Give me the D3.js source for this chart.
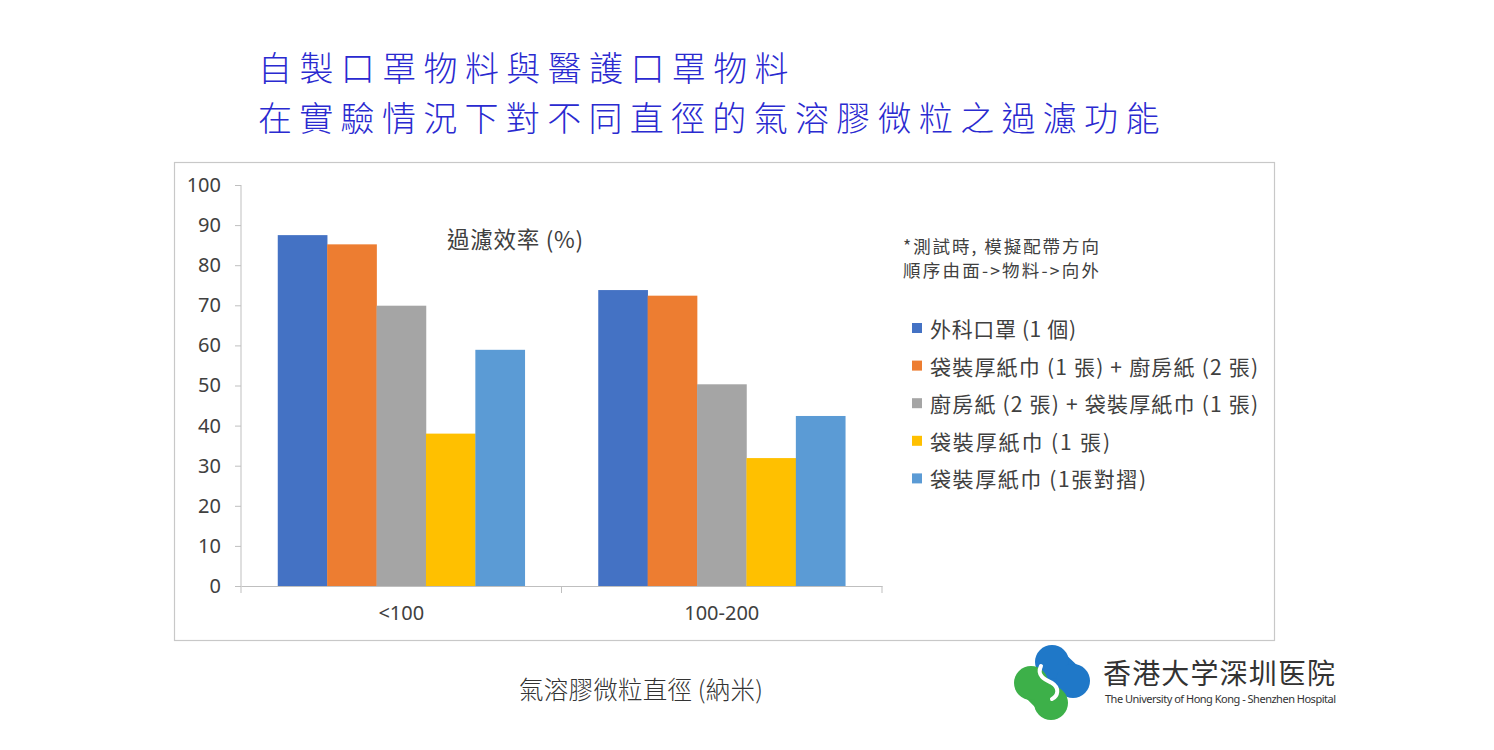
<!DOCTYPE html>
<html>
<head>
<meta charset="utf-8">
<script src="https://cdn.jsdelivr.net/npm/d3@7"></script>
<style>
  body { margin: 0; background: #fff; }
  text { font-family: "Noto Sans", "Noto Sans CJK TC", sans-serif; }
  .cjk { font-family: "Noto Sans CJK TC", sans-serif; }
</style>
</head>
<body>
<div class="svg-container"></div>
<script>
var width = 1494,
  height = 750;

// data
var categories = ["<100", "100-200"];
var seriesNames = [
  "外科口罩 (1 個)",
  "袋裝厚紙巾 (1 張) + 廚房紙 (2 張)",
  "廚房紙 (2 張) + 袋裝厚紙巾 (1 張)",
  "袋裝厚紙巾 (1 張)",
  "袋裝厚紙巾 (1張對摺)"
];
var seriesColors = ["#4472c4", "#ed7d31", "#a5a5a5", "#ffc000", "#5b9bd5"];
// one array per series: [<100, 100-200]
var surgicalMask = [87.5, 73.8];
var tissuePlusKitchen = [85.2, 72.4];
var kitchenPlusTissue = [69.9, 50.3];
var tissueSingle = [38.0, 31.9];
var tissueFolded = [58.9, 42.4];
var yTicks = [0, 10, 20, 30, 40, 50, 60, 70, 80, 90, 100];
var titleLines = ["自製口罩物料與醫護口罩物料", "在實驗情況下對不同直徑的氣溶膠微粒之過濾功能"];
var noteLines = ["*測試時, 模擬配帶方向", "順序由面->物料->向外"];

var seriesValues = [surgicalMask, tissuePlusKitchen, kitchenPlusTissue, tissueSingle, tissueFolded];
// widths the legend labels take in the picture
var legendWidths = [146, 328, 328, 180, 216];

var svg = d3.select(".svg-container").append("svg")
  .attr("width", width)
  .attr("height", height);

// title
svg.selectAll(".title")
  .data(titleLines)
  .enter()
  .append("text")
  .attr("class", "title cjk")
  .attr("x", 258)
  .attr("y", function(d, i) { return 81 + i * 49.5; })
  .attr("font-size", 34)
  .attr("font-weight", 300)
  .attr("fill", "#2a2ad0")
  .attr("textLength", function(d) { return d.length * 41.2 - 5; })
  .text(function(d) { return d; });

// chart frame
svg.append("rect")
  .attr("x", 174.5)
  .attr("y", 162.5)
  .attr("width", 1100)
  .attr("height", 478)
  .attr("fill", "none")
  .attr("stroke", "#c8c8c8")
  .attr("stroke-width", 1.2);

var x0 = d3.scaleBand().domain(categories).range([241, 882]).padding(0);
var x1 = d3.scaleBand().domain(d3.range(seriesNames.length))
  .range([0, x0.bandwidth()]).paddingInner(0).paddingOuter(0.744);
var y = d3.scaleLinear().domain([0, 100]).range([586, 185]);

// bars
var groups = svg.selectAll(".group")
  .data(seriesValues)
  .enter()
  .append("g")
  .attr("fill", function(d, i) { return seriesColors[i]; });

groups.each(function(vals, si) {
  d3.select(this).selectAll("rect")
    .data(vals)
    .enter()
    .append("rect")
    .attr("x", function(d, ci) { return x0(categories[ci]) + x1(si); })
    .attr("y", function(d) { return y(d); })
    .attr("width", x1.bandwidth() + 0.3)
    .attr("height", function(d) { return y(0) - y(d); });
});

// y axis
var yAxis = svg.append("g")
  .attr("transform", "translate(241,0)")
  .call(d3.axisLeft(y).tickValues(yTicks).tickSize(6).tickPadding(14));
yAxis.select(".domain").attr("stroke", "#bfbfbf").attr("d", "M0," + y(100) + "V" + y(0));
yAxis.selectAll(".tick line").attr("stroke", "#bfbfbf");
yAxis.selectAll(".tick text")
  .attr("font-size", 20)
  .attr("fill", "#404040")
  .attr("font-family", "'Open Sans', sans-serif");

// x axis
var xAxis = svg.append("g")
  .attr("transform", "translate(0," + y(0) + ")")
  .call(d3.axisBottom(x0).tickSize(0).tickPadding(20));
xAxis.select(".domain").attr("stroke", "#bfbfbf");
xAxis.selectAll(".tick text")
  .attr("font-size", 20)
  .attr("fill", "#404040")
  .attr("font-family", "'Open Sans', sans-serif");
xAxis.selectAll(".sep")
  .data([241, 561.5, 882])
  .enter()
  .append("line")
  .attr("x1", function(d) { return d; })
  .attr("x2", function(d) { return d; })
  .attr("y1", 0)
  .attr("y2", 7)
  .attr("stroke", "#bfbfbf");

// inner chart label
svg.append("text")
  .attr("class", "cjk")
  .attr("x", 447)
  .attr("y", 238)
  .attr("dominant-baseline", "central")
  .attr("font-size", 22.5)
  .attr("fill", "#404040")
  .attr("textLength", 136)
  .text("過濾效率 (%)");

// note
svg.selectAll(".note")
  .data(noteLines)
  .enter()
  .append("text")
  .attr("class", "note cjk")
  .attr("x", 903)
  .attr("y", function(d, i) { return 245 + i * 24; })
  .attr("dominant-baseline", "central")
  .attr("font-size", 17.5)
  .attr("fill", "#404040")
  .attr("textLength", 196)
  .text(function(d) { return d; });

// legend
var legend = svg.selectAll(".legend")
  .data(seriesNames)
  .enter()
  .append("g")
  .attr("class", "legend")
  .attr("transform", function(d, i) { return "translate(912," + (328 + i * 37.6) + ")"; });
legend.append("rect")
  .attr("x", 0)
  .attr("y", -5)
  .attr("width", 10)
  .attr("height", 10)
  .attr("fill", function(d, i) { return seriesColors[i]; });
legend.append("text")
  .attr("class", "cjk")
  .attr("x", 18)
  .attr("y", 0)
  .attr("dominant-baseline", "central")
  .attr("font-size", 21)
  .attr("fill", "#404040")
  .attr("textLength", function(d, i) { return legendWidths[i]; })
  .text(function(d) { return d; });

// x axis title
svg.append("text")
  .attr("class", "cjk")
  .attr("x", 641)
  .attr("y", 688)
  .attr("text-anchor", "middle")
  .attr("dominant-baseline", "central")
  .attr("font-size", 24.5)
  .attr("font-weight", 300)
  .attr("fill", "#333")
  .attr("textLength", 244)
  .text("氣溶膠微粒直徑 (納米)");

// hospital logo
var logo = svg.append("g");
logo.append("path")
  .attr("d", "M1052,662 L1072,681")
  .attr("stroke", "#1f78c8").attr("stroke-width", 30).attr("stroke-linecap", "round");
logo.append("path")
  .attr("d", "M1032,683 L1051,702")
  .attr("stroke", "#3db049").attr("stroke-width", 30).attr("stroke-linecap", "round");
logo.append("circle").attr("cx", 1052).attr("cy", 662).attr("r", 17).attr("fill", "#1f78c8");
logo.append("circle").attr("cx", 1073).attr("cy", 681).attr("r", 17).attr("fill", "#1f78c8");
logo.append("circle").attr("cx", 1031).attr("cy", 683).attr("r", 17).attr("fill", "#3db049");
logo.append("circle").attr("cx", 1051).attr("cy", 703).attr("r", 17).attr("fill", "#3db049");
logo.append("path")
  .attr("d", "M1041,666 C1036,676 1046,680 1052,683 C1060,688 1058,696 1052,699")
  .attr("fill", "none")
  .attr("stroke", "#fff")
  .attr("stroke-width", 4)
  .attr("stroke-linecap", "round");

svg.append("text")
  .attr("class", "cjk")
  .attr("x", 1103)
  .attr("y", 672)
  .attr("dominant-baseline", "central")
  .attr("font-size", 28)
  .attr("fill", "#333")
  .attr("textLength", 232)
  .text("香港大学深圳医院");
svg.append("text")
  .attr("x", 1105)
  .attr("y", 698)
  .attr("dominant-baseline", "central")
  .attr("font-size", 11)
  .attr("font-family", "'Liberation Serif', serif")
  .attr("fill", "#333")
  .attr("textLength", 231)
  .text("The University of Hong Kong - Shenzhen Hospital");
</script>
</body>
</html>
